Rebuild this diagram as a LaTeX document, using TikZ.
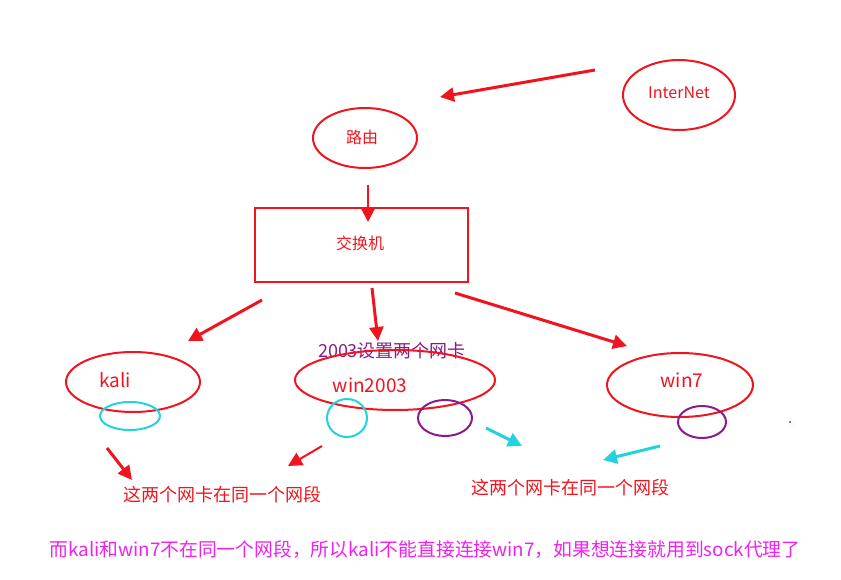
\documentclass[tikz,border=0pt]{standalone}
\usepackage{fontspec}
\setmainfont{Noto Sans CJK SC}
\usetikzlibrary{arrows.meta}
\definecolor{rd}{HTML}{F0141E}
\definecolor{cy}{HTML}{22D3DC}
\definecolor{pu}{HTML}{8B1A8B}
\definecolor{mg}{HTML}{F020F0}
\begin{document}
\begin{tikzpicture}[x=1pt,y=-1pt,
  arr/.style={rd,line width=3pt,-{Triangle[length=14pt,width=14pt]}},
  carr/.style={cy,line width=3pt,-{Triangle[length=14pt,width=14pt]}},
  lab/.style={text=rd,font=\fontsize{16}{18}\selectfont}]
\useasboundingbox (0,0) rectangle (841,580);
\draw[draw=rd,line width=2pt] (679,95) ellipse[x radius=56,y radius=35];
\node[lab] (inet) at (679,93) {InterNet};
\draw[draw=rd,line width=2pt] (365,138) ellipse[x radius=52,y radius=30];
\node[lab] (lu) at (362,137) {路由};
\draw[draw=rd,line width=2pt] (255,208) rectangle (468,282);
\node[lab] (sw) at (360,243) {交换机};
\coordinate (a1) at (595,70); \coordinate (a1e) at (440,97);
\draw[arr] (a1) -- (a1e);
\coordinate (a2) at (368,185); \coordinate (a2e) at (368,222);
\draw[arr,line width=2pt] (a2) -- (a2e);
\coordinate (b1) at (262,300); \coordinate (b1e) at (188,341);
\draw[arr] (b1) -- (b1e);
\coordinate (b2) at (372,288); \coordinate (b2e) at (378,341);
\draw[arr] (b2) -- (b2e);
\coordinate (b3) at (455,293); \coordinate (b3e) at (627,346);
\draw[arr] (b3) -- (b3e);
% kali
\draw[draw=rd,line width=2pt] (133,382) ellipse[x radius=67,y radius=30];
\node[lab,font=\fontsize{19}{21}\selectfont] (kali) at (115,380) {kali};
\draw[draw=cy,line width=2pt] (130,416) ellipse[x radius=30,y radius=14];
% win2003
\node[text=pu,font=\fontsize{18}{20}\selectfont] (t2003) at (392,351) {2003设置两个网卡};
\draw[draw=rd,line width=2pt] (395,380) ellipse[x radius=100,y radius=30];
\node[lab,font=\fontsize{19}{21}\selectfont] (w2003) at (370,385) {win2003};
\draw[draw=cy,line width=2pt] (347,418) ellipse[x radius=20,y radius=19];
\draw[draw=pu,line width=2pt] (445,418) ellipse[x radius=27,y radius=18];
% win7
\draw[draw=rd,line width=2pt] (680,385) ellipse[x radius=73,y radius=32];
\node[lab,font=\fontsize{19}{21}\selectfont] (w7) at (682,380) {win7};
\draw[draw=pu,line width=2pt] (702,422) ellipse[x radius=24,y radius=16];
\fill[rd] (790,422) circle (1.2);
% lower arrows
\coordinate (c1) at (107,448); \coordinate (c1e) at (132,480);
\draw[arr] (c1) -- (c1e);
\coordinate (c2) at (322,446); \coordinate (c2e) at (288,466);
\draw[arr,line width=2pt] (c2) -- (c2e);
\coordinate (c3) at (486,428); \coordinate (c3e) at (522,446);
\draw[carr] (c3) -- (c3e);
\coordinate (c4) at (660,446); \coordinate (c4e) at (603,460);
\draw[carr] (c4) -- (c4e);
\node[lab,font=\fontsize{18}{20}\selectfont] (s1) at (222,495) {这两个网卡在同一个网段};
\node[lab,font=\fontsize{18}{20}\selectfont] (s2) at (570,488) {这两个网卡在同一个网段};
\node[text=mg,font=\fontsize{18.8}{20}\selectfont] (bot) at (425,550) {而kali和win7不在同一个网段，所以kali不能直接连接win7，如果想连接就用到sock代理了};
\end{tikzpicture}
\end{document}
